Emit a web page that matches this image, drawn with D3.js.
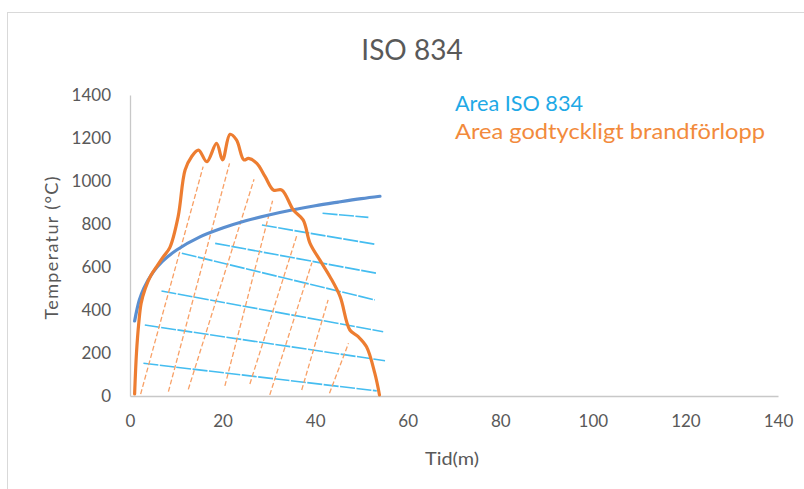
<!DOCTYPE html>
<html>
<head>
<meta charset="utf-8">
<script src="https://cdn.jsdelivr.net/npm/d3@7/dist/d3.min.js"></script>
<style>
  html, body { margin: 0; padding: 0; background: #fff; }
  svg { display: block; font-family: Lato, "Open Sans", sans-serif; }
</style>
</head>
<body>
<svg id="chart" width="804" height="489"></svg>
<script>
// ---------------- DATA ----------------
const chartTitle = "ISO 834";
const xTicks = [0, 20, 40, 60, 80, 100, 120, 140];
const yTicks = [0, 200, 400, 600, 800, 1000, 1200, 1400];
const xLabel = "Tid(m)";
const yLabel = "Temperatur  (°C)";
const legendLabels = ["Area ISO 834", "Area godtyckligt brandförlopp"];

// ISO 834 standard curve (time in min, temperature °C)
const isoTime = [1, 2, 3, 5, 7, 10, 15, 20, 25, 30, 35, 40, 45, 50, 54];
const isoTemp = [349, 445, 502, 576, 626, 678, 739, 781, 815, 842, 865, 885, 902, 918, 929];

// Arbitrary fire curve ("godtyckligt brandförlopp")
const fireTime = [1.0, 1.4, 1.9, 2.4, 3.3, 4.5, 6.0, 7.2, 8.6, 10.4, 11.9, 13.3, 14.8, 16.6, 18.7, 20.0, 21.6, 23.0, 24.6, 25.6, 27.4, 29.2, 31.0, 32.8, 35.3, 37.4, 38.9, 41.0, 43.2, 45.4, 47.5, 49.3, 51.1, 52.9, 53.9];
const fireTemp = [10, 200, 340, 430, 500, 560, 610, 648, 690, 834, 1051, 1113, 1144, 1090, 1175, 1098, 1217, 1191, 1098, 1105, 1082, 1020, 958, 958, 865, 819, 710, 633, 555, 462, 307, 276, 229, 105, 5];

// Hatch lines of the ISO area: [t1, T1, t2, T2]
const isoHatch = [
  [2.9, 152, 53.3, 24],
  [3.2, 330, 55.1, 164],
  [6.8, 488, 54.7, 299],
  [11.2, 664, 52.9, 447],
  [18.4, 710, 53.3, 571],
  [28.5, 795, 52.9, 706],
  [41.6, 850, 51.5, 831]
];
// Hatch lines of the arbitrary fire area: [t1, T1, t2, T2]
const fireHatch = [
  [2.3, 9, 15.8, 1067],
  [8.3, 20, 21.5, 1082],
  [12.6, 31, 26.8, 1008],
  [20.5, 47, 30.8, 908],
  [25.9, 56, 36.0, 744],
  [30.2, 5, 39.3, 620],
  [37.1, 28, 42.8, 447],
  [43.1, 13, 47.2, 245]
];

// ---------------- DRAW ----------------
const svg = d3.select("#chart");
const textCol = "#595959";

svg.append("rect").attr("x", 7.5).attr("y", 12.5).attr("width", 820).attr("height", 500)
  .attr("fill", "#fff").attr("stroke", "#d9d9d9").attr("stroke-width", 1);

const x = d3.scaleLinear().domain([0, 140]).range([130, 778]);
const y = d3.scaleLinear().domain([0, 1400]).range([396, 95]);

// Title
svg.append("text").attr("x", 412).attr("y", 60).attr("text-anchor", "middle")
  .attr("font-size", 28).attr("fill", textCol).text(chartTitle);

// Axes
const xAxis = svg.append("g").attr("transform", "translate(0,396)")
  .call(d3.axisBottom(x).tickValues(xTicks).tickSize(0).tickPadding(19).tickFormat(d3.format("d")));
const yAxis = svg.append("g").attr("transform", "translate(130,0)")
  .call(d3.axisLeft(y).tickValues(yTicks).tickSize(0).tickPadding(19).tickFormat(d3.format("d")));
[xAxis, yAxis].forEach(g => {
  g.select(".domain").attr("stroke", "#c8c8c8").attr("stroke-width", 1.3);
  g.selectAll("text").attr("font-size", 17).attr("fill", textCol).attr("font-family", "Lato, sans-serif");
});

// Axis titles
svg.append("text").attr("x", 452).attr("y", 465).attr("text-anchor", "middle")
  .attr("font-size", 18).attr("fill", textCol)
  .attr("textLength", 54).attr("lengthAdjust", "spacingAndGlyphs").text(xLabel);
svg.append("text").attr("transform", "translate(58,248) rotate(-90)").attr("text-anchor", "middle")
  .attr("font-size", 18).attr("fill", textCol)
  .attr("textLength", 143).attr("lengthAdjust", "spacing").text(yLabel);

// Hatching
svg.append("g").selectAll("line").data(isoHatch).join("line")
  .attr("x1", d => x(d[0])).attr("y1", d => y(d[1]))
  .attr("x2", d => x(d[2])).attr("y2", d => y(d[3]))
  .attr("stroke", "#45bdf0").attr("stroke-width", 1.6).attr("stroke-dasharray", "15,1.5");
svg.append("g").selectAll("line").data(fireHatch).join("line")
  .attr("x1", d => x(d[0])).attr("y1", d => y(d[1]))
  .attr("x2", d => x(d[2])).attr("y2", d => y(d[3]))
  .attr("stroke", "#f8a066").attr("stroke-width", 1.3).attr("stroke-dasharray", "5,2.5");

// Curves
const line = d3.line().x(d => x(d[0])).y(d => y(d[1])).curve(d3.curveCatmullRom.alpha(0.5));
svg.append("path").datum(isoTime.map((t, i) => [t, isoTemp[i]]))
  .attr("d", line).attr("fill", "none").attr("stroke", "#5b8fd0").attr("stroke-width", 3.2)
  .attr("stroke-linecap", "round");
svg.append("path").datum(fireTime.map((t, i) => [t, fireTemp[i]]))
  .attr("d", line).attr("fill", "none").attr("stroke", "#ed7d31").attr("stroke-width", 3.2)
  .attr("stroke-linejoin", "round").attr("stroke-linecap", "round");

// Legend texts
const legendColors = ["#1fa9e6", "#f28a3c"];
const legendWidths = [128, 310];
svg.append("g").selectAll("text").data(legendLabels).join("text")
  .attr("x", 455).attr("y", (d, i) => 111 + i * 28)
  .attr("font-size", 22).attr("fill", (d, i) => legendColors[i])
  .attr("textLength", (d, i) => legendWidths[i]).attr("lengthAdjust", "spacingAndGlyphs")
  .text(d => d);
</script>
</body>
</html>
